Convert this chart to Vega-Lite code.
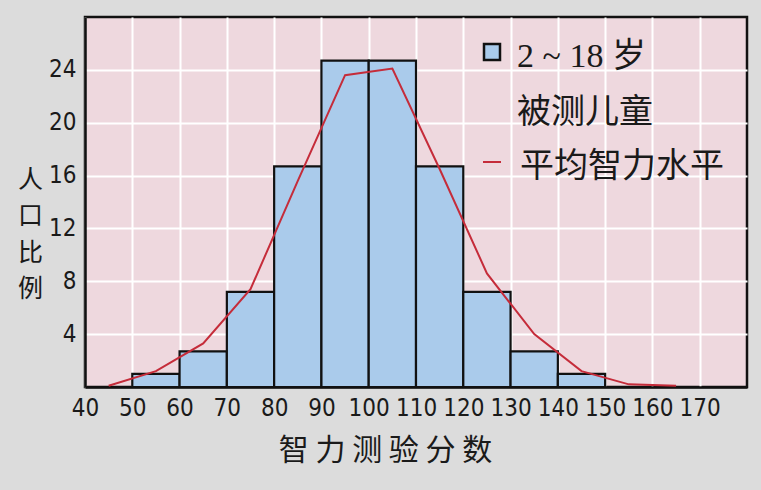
{
  "$schema": "https://vega.github.io/schema/vega-lite/v6.json",
  "width": 662,
  "height": 370,
  "autosize": {"type": "none"},
  "padding": {"left": 85, "top": 17, "right": 14, "bottom": 103},
  "background": "#dcdcdc",
  "config": {
    "view": {"fill": "#eed8de", "stroke": "#111", "strokeWidth": 2.5},
    "axis": {"labelFont": "DejaVu Sans Condensed, Liberation Sans", "labelColor": "#1a1a1a", "titleFont": "Noto Sans CJK SC", "titleColor": "#1a1a1a", "titleFontWeight": "normal"}
  },
  "datasets": {
    "bins": [
      {"lo": 50, "hi": 60, "pct": 1.0},
      {"lo": 60, "hi": 70, "pct": 2.7},
      {"lo": 70, "hi": 80, "pct": 7.2},
      {"lo": 80, "hi": 90, "pct": 16.7},
      {"lo": 90, "hi": 100, "pct": 24.7},
      {"lo": 100, "hi": 110, "pct": 24.7},
      {"lo": 110, "hi": 120, "pct": 16.7},
      {"lo": 120, "hi": 130, "pct": 7.2},
      {"lo": 130, "hi": 140, "pct": 2.7},
      {"lo": 140, "hi": 150, "pct": 1.0}
    ],
    "curve": [
      {"iq": 45, "pct": 0.1},
      {"iq": 55, "pct": 1.2},
      {"iq": 65, "pct": 3.3},
      {"iq": 75, "pct": 7.4},
      {"iq": 85, "pct": 15.6},
      {"iq": 95, "pct": 23.6},
      {"iq": 105, "pct": 24.1},
      {"iq": 115, "pct": 16.5},
      {"iq": 125, "pct": 8.6},
      {"iq": 135, "pct": 4.0},
      {"iq": 145, "pct": 1.2},
      {"iq": 155, "pct": 0.2},
      {"iq": 165, "pct": 0.1}
    ]
  },
  "layer": [
    {
      "data": {"name": "bins"},
      "mark": {"type": "bar", "stroke": "#111", "strokeWidth": 2.2},
      "encoding": {
        "x": {
          "field": "lo", "type": "quantitative",
          "scale": {"domain": [40, 180], "nice": false, "zero": false},
          "axis": {
            "values": [40, 50, 60, 70, 80, 90, 100, 110, 120, 130, 140, 150, 160, 170],
            "grid": true, "gridColor": "#ffffff", "gridWidth": 2, "gridOpacity": 1,
            "ticks": false, "domain": true, "domainColor": "#111", "domainWidth": 2.5,
            "labelFontSize": 24, "labelPadding": 9, "labelFlush": false,
            "title": "智 力 测 验 分 数", "titleFontSize": 30,
            "titleX": 300, "titleY": 63, "titleAlign": "center", "titleBaseline": "middle", "titleAnchor": null
          }
        },
        "x2": {"field": "hi"},
        "y": {
          "field": "pct", "type": "quantitative",
          "scale": {"domain": [0, 28], "nice": false},
          "axis": {
            "values": [4, 8, 12, 16, 20, 24],
            "grid": true, "gridColor": "#ffffff", "gridWidth": 2, "gridOpacity": 1,
            "ticks": false, "domain": true, "domainColor": "#111", "domainWidth": 2.5,
            "labelFontSize": 24, "labelPadding": 9, "labelFlush": false,
            "title": ["人", "口", "比", "例"], "titleFontSize": 25, "titleAngle": 0,
            "titleX": -55, "titleY": 162, "titleAlign": "center", "titleBaseline": "middle", "titleLineHeight": 36.5, "titleAnchor": null
          }
        },
        "y2": {"datum": 0},
        "fill": {
          "datum": "2 ~ 18 岁|被测儿童", "type": "nominal",
          "scale": {"range": ["#aacbeb"]},
          "legend": {
            "orient": "none", "legendX": 390, "legendY": 18, "title": null, "padding": 0,
            "symbolType": "square", "symbolSize": 256, "symbolStrokeColor": "#111", "symbolStrokeWidth": 2.5,
            "symbolFillColor": "#aacbeb",
            "labelFont": "Liberation Serif, Noto Sans CJK SC", "labelFontSize": 34, "labelColor": "#1a1a1a",
            "labelOffset": 8, "labelLimit": 0, "labelBaseline": "top",
            "labelExpr": "split(datum.label, '|')",
            "encode": {"labels": {"update": {"lineHeight": {"value": 56}, "dy": {"value": -12}}}}
          }
        }
      }
    },
    {
      "data": {"name": "curve"},
      "mark": {"type": "line", "strokeWidth": 2},
      "encoding": {
        "x": {"field": "iq", "type": "quantitative"},
        "y": {"field": "pct", "type": "quantitative"},
        "stroke": {
          "datum": "平均智力水平", "type": "nominal",
          "scale": {"range": ["#c52c3a"]},
          "legend": {
            "orient": "none", "legendX": 390, "legendY": 128, "title": null, "padding": 0,
            "symbolType": "stroke", "symbolSize": 324, "symbolStrokeWidth": 2,
            "labelFont": "Liberation Serif, Noto Sans CJK SC", "labelFontSize": 34, "labelColor": "#1a1a1a",
            "labelOffset": 11, "labelLimit": 0,
            "encode": {"labels": {"update": {"dy": {"value": 5}}}}
          }
        }
      }
    }
  ]
}
